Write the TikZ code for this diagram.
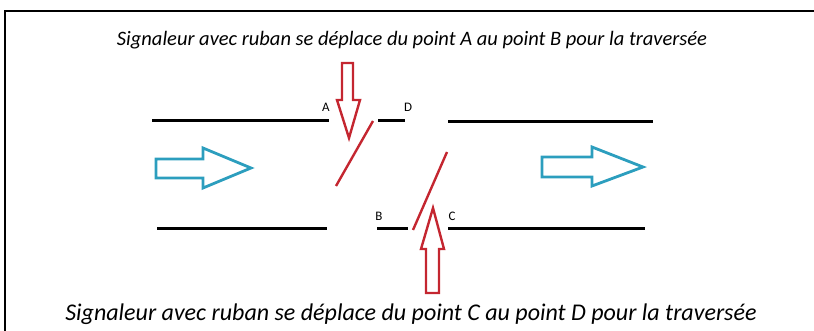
\documentclass[tikz,border=0pt]{standalone}
\usepackage{fontspec}
\setmainfont{Carlito}
\definecolor{tapered}{RGB}{196,38,48}
\definecolor{flowblue}{RGB}{44,158,190}

\begin{document}
\begin{tikzpicture}[%
            x=1pt, y=-1pt,
            roadline/.style={line width=3pt, black},
            tape/.style={line width=2.4pt, tapered},
            walkarrow/.style={line width=2.4pt, tapered, line join=miter},
            flowarrow/.style={line width=2.8pt, flowblue, line join=miter},
            pointlabel/.style={font=\fontsize{13}{13}\selectfont, inner sep=0pt},
            caption/.style={font=\itshape, inner sep=0pt, anchor=base}
        ]
        \useasboundingbox (0,0) rectangle (814,331);

        % frame
        \draw [line width=1.4pt] (5,331) -- (5,11) -- (814,11);

        % road edges
        \draw [roadline] (152,121) -- (329,121);
        \draw [roadline] (378,121) -- (405,121);
        \draw [roadline] (448,122) -- (653,122);
        \draw [roadline] (157,229) -- (327,229);
        \draw [roadline] (377,229) -- (408,229);
        \draw [roadline] (448,229) -- (645,229);

        % points
        \node [pointlabel] (A) at (326,107) {A};
        \node [pointlabel] (D) at (408,107) {D};
        \node [pointlabel] (B) at (379,216) {B};
        \node [pointlabel] (C) at (452,216) {C};

        % tapes
        \draw [tape] (336,186) -- (373,121);
        \draw [tape] (413,230) -- (447,152);

        % walking directions
        \draw [walkarrow] (342,63) -- (353,63) -- (353,100) -- (360,100)
                          -- (349,138) -- (337,100) -- (342,100) -- cycle;
        \draw [walkarrow] (426,293) -- (439,293) -- (439,249) -- (444,249)
                          -- (433,208) -- (421,249) -- (426,249) -- cycle;

        % traffic flow
        \draw [flowarrow] (156,159) -- (203,159) -- (203,148) -- (251,168)
                          -- (203,188) -- (203,178) -- (156,178) -- cycle;
        \draw [flowarrow] (542,157) -- (592,157) -- (592,147) -- (643,167)
                          -- (592,186) -- (592,177) -- (542,177) -- cycle;

        % captions
        \node [caption, font=\itshape\fontsize{20.5}{20.5}\selectfont] (top) at (412,46)
            {Signaleur avec ruban se déplace du point A au point B pour la traversée};
        \node [caption, font=\itshape\fontsize{24}{24}\selectfont] (bottom) at (411,320)
            {Signaleur avec ruban se déplace du point C au point D pour la traversée};
    \end{tikzpicture}
\end{document}
